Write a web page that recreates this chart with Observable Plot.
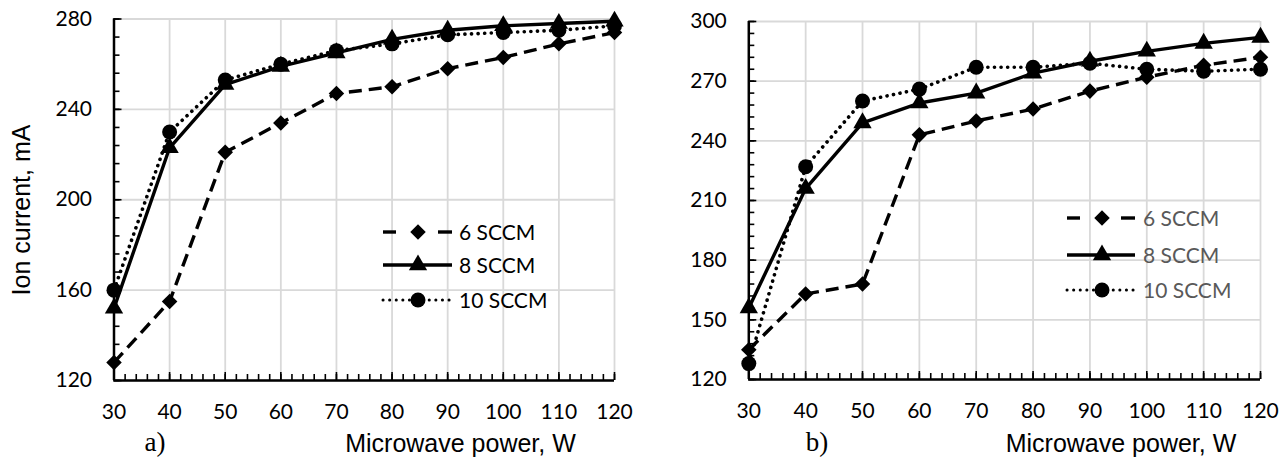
<!DOCTYPE html>
<html><head><meta charset="utf-8">
<script src="https://cdn.jsdelivr.net/npm/d3@7"></script>
<script src="https://cdn.jsdelivr.net/npm/@observablehq/plot@0.6"></script>
<style>
body{margin:0;background:#fff;}
#wrap{position:relative;width:1288px;height:462px;overflow:hidden;background:#fff;}
#wrap svg{position:absolute;top:0;}
</style></head><body><div id="wrap"></div>
<script>
// ---- data ----
const power = [30, 40, 50, 60, 70, 80, 90, 100, 110, 120];
const seriesNames = ["6 SCCM", "8 SCCM", "10 SCCM"];
// panel a)
const a6  = [128, 155, 221, 234, 247, 250, 258, 263, 269, 274];
const a8  = [152, 223, 251, 259, 265, 271, 275, 277, 278, 279];
const a10 = [160, 230, 253, 260, 266, 269, 273, 274, 275, 277];
// panel b)
const b6  = [135, 163, 168, 243, 250, 256, 265, 272, 278, 282];
const b8  = [156, 216, 249, 259, 264, 274, 280, 285, 289, 292];
const b10 = [128, 227, 260, 266, 277, 277, 279, 276, 275, 276];
// tick labels
const xTicks = [30, 40, 50, 60, 70, 80, 90, 100, 110, 120];
const aYTicks = [120, 160, 200, 240, 280];
const bYTicks = [120, 150, 180, 210, 240, 270, 300];
const xMinor = d3.range(30, 121, 2);
const aYMinor = d3.range(120, 281, 8);
const bYMinor = d3.range(120, 301, 6);

const styles = [
  {dash: "13,7", cap: "butt", symbol: "diamond2", r: 7, d3sym: d3.symbolDiamond2},
  {dash: null, cap: "butt", symbol: "triangle", r: 6.8, d3sym: d3.symbolTriangle},
  {dash: "0.1,6.5", cap: "round", symbol: "circle", r: 7.5, d3sym: d3.symbolCircle}
];

function panel({left, width, ml, mr, mt, mb, yDomain, yTicks, yMinor, series}) {
  const H = 462;
  const fh = H - mt - mb, fw = width - ml - mr;
  const marks = [
    Plot.gridX(xTicks, {stroke: "#d9d9d9", strokeOpacity: 1, strokeWidth: 1.8}),
    Plot.gridY(yTicks, {stroke: "#d9d9d9", strokeOpacity: 1, strokeWidth: 1.8}),
    Plot.ruleX(xMinor, {x: d => d, insetTop: fh - 6, stroke: "black", strokeWidth: 1.6}),
    Plot.ruleX(xTicks, {x: d => d, insetTop: fh - 8, stroke: "black", strokeWidth: 1.6}),
    Plot.ruleY(yMinor, {y: d => d, insetRight: fw - 6, stroke: "black", strokeWidth: 1.6}),
    Plot.ruleY(yTicks, {y: d => d, insetRight: fw - 8, stroke: "black", strokeWidth: 1.6}),
    Plot.ruleX([xTicks[0]], {stroke: "black", strokeWidth: 2.5}),
    Plot.ruleY([yDomain[0]], {stroke: "black", strokeWidth: 2.5}),
    Plot.axisX(xTicks, {tickSize: 0, tickPadding: 24, label: null, fontSize: 21}),
    Plot.axisY(yTicks, {tickSize: 0, tickPadding: 22, label: null, fontSize: 21})
  ];
  series.forEach((vals, i) => {
    const s = styles[i];
    marks.push(Plot.line(power, {x: power, y: vals, stroke: "black", strokeWidth: i === 2 ? 3.6 : 3.4,
      strokeDasharray: s.dash, strokeLinecap: s.cap, strokeLinejoin: "round"}));
  });
  series.forEach((vals, i) => {
    const s = styles[i];
    marks.push(Plot.dot(power, {x: power, y: vals, symbol: () => s.symbol, r: s.r, fill: "black", stroke: "none"}));
  });
  const svg = Plot.plot({
    width, height: H, marginLeft: ml, marginRight: mr, marginTop: mt, marginBottom: mb,
    x: {domain: [30, 120]}, y: {domain: yDomain},
    symbol: {type: "identity"},
    style: {fontFamily: "Lato, 'Open Sans', sans-serif", fontSize: "21px", color: "black", background: "transparent", overflow: "visible"},
    marks
  });
  svg.style.left = left + "px";
  return svg;
}

const wrap = document.getElementById("wrap");
wrap.appendChild(panel({left: 0, width: 640, ml: 113.5, mr: 26, mt: 18.5, mb: 82,
  yDomain: [120, 280], yTicks: aYTicks, yMinor: aYMinor, series: [a6, a8, a10]}));
wrap.appendChild(panel({left: 640, width: 648, ml: 108.3, mr: 28, mt: 21, mb: 83,
  yDomain: [120, 300], yTicks: bYTicks, yMinor: bYMinor, series: [b6, b8, b10]}));

// ---- overlay: titles, panel labels, legends ----
const ov = d3.select(wrap).append("svg").attr("width", 1288).attr("height", 462).style("left", "0px");
ov.append("text").attr("transform", "translate(30,210) rotate(-90)").attr("text-anchor", "middle")
  .attr("font-family", "'Liberation Sans', Arial, sans-serif").attr("font-size", 25).text("Ion current, mA");
[[460.5, "a)", 155], [1121, "b)", 817]].forEach(([cx, lab, lx]) => {
  ov.append("text").attr("x", cx).attr("y", 452).attr("text-anchor", "middle")
    .attr("font-family", "'Liberation Sans', Arial, sans-serif").attr("font-size", 25).text("Microwave power, W");
  ov.append("text").attr("x", lx).attr("y", 451).attr("text-anchor", "middle")
    .attr("font-family", "'Liberation Serif', 'Times New Roman', serif").attr("font-size", 27).text(lab);
});

function legend({x0, x1, xm, xt, rows, color}) {
  seriesNames.forEach((name, i) => {
    const s = styles[i], y = rows[i];
    const g = ov.append("g");
    if (i === 0) {
      g.append("line").attr("x1", x0).attr("x2", x0 + 13).attr("y1", y).attr("y2", y).attr("stroke", "black").attr("stroke-width", 3.4);
      g.append("line").attr("x1", x1 - 14).attr("x2", x1).attr("y1", y).attr("y2", y).attr("stroke", "black").attr("stroke-width", 3.4);
    } else {
      g.append("line").attr("x1", x0).attr("x2", x1).attr("y1", y).attr("y2", y).attr("stroke", "black")
        .attr("stroke-width", i === 1 ? 3.4 : 3).attr("stroke-dasharray", s.dash).attr("stroke-linecap", s.cap);
    }
    g.append("path").attr("transform", `translate(${xm},${y})`)
      .attr("d", d3.symbol(s.d3sym, Math.PI * s.r * s.r)()).attr("fill", "black");
    g.append("text").attr("x", xt).attr("y", y).attr("dy", "0.36em").attr("fill", color)
      .attr("font-family", "Lato, 'Open Sans', sans-serif").attr("font-size", 21).text(name);
  });
}
legend({x0: 383, x1: 452, xm: 418, xt: 459, rows: [232, 265, 300], color: "#000"});
legend({x0: 1067, x1: 1135, xm: 1102, xt: 1143, rows: [218, 255, 290], color: "#595959"});
</script></body></html>
